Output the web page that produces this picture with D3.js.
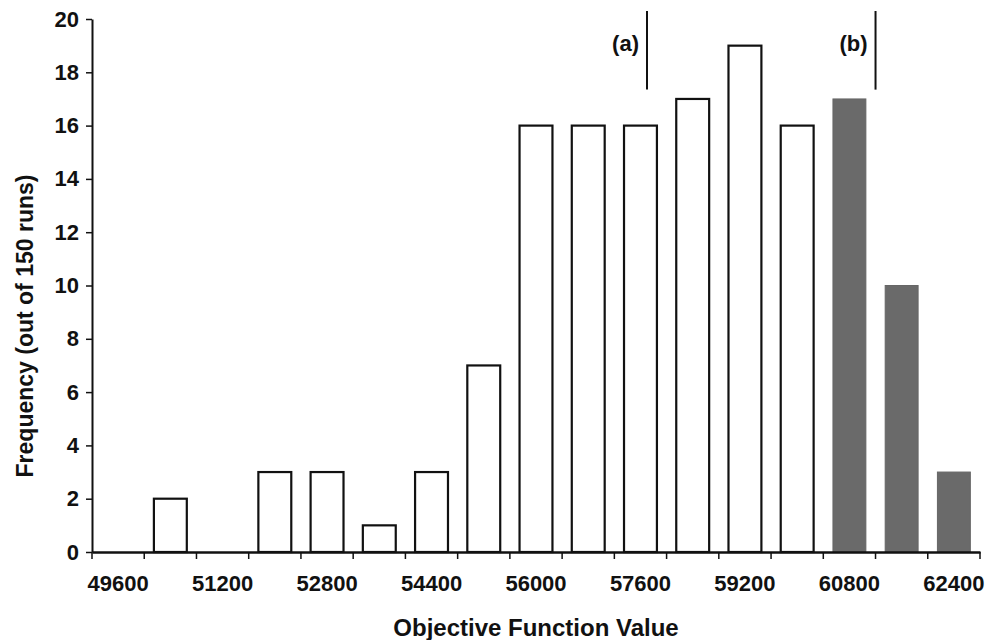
<!DOCTYPE html>
<html>
<head>
<meta charset="utf-8">
<script src="https://cdn.jsdelivr.net/npm/d3@7"></script>
<style>
  body { margin: 0; background: #fff; }
  text { font-family: "Liberation Sans", Arial, sans-serif; font-weight: bold; fill: #111; }
</style>
</head>
<body>
<div id="chart"></div>
<script>
// objective function value (bin centres)
var bins = [49600, 50400, 51200, 52000, 52800, 53600, 54400, 55200, 56000,
            56800, 57600, 58400, 59200, 60000, 60800, 61600, 62400];
// frequency out of 150 runs
var counts = [0, 2, 0, 3, 3, 1, 3, 7, 16, 16, 16, 17, 19, 16, 17, 10, 3];
// bins beyond the (b) cut-off are shaded
var shaded = [60800, 61600, 62400];
var xLabels = [49600, 51200, 52800, 54400, 56000, 57600, 59200, 60800, 62400];
var yTicks = [0, 2, 4, 6, 8, 10, 12, 14, 16, 18, 20];
var markers = [{ label: "(a)", value: 57700 }, { label: "(b)", value: 61200 }];

var width = 986, height = 640;
var plotLeft = 92, plotRight = 980, plotTop = 19, plotBottom = 552;

var svg = d3.select("#chart")
  .append("svg")
  .attr("width", width)
  .attr("height", height);

var x = d3.scaleBand()
  .domain(bins)
  .range([plotLeft, plotRight])
  .paddingInner(0.37)
  .paddingOuter(0.185);

// linear scale over the same span, for the marker lines
var xv = d3.scaleLinear()
  .domain([bins[0] - 400, bins[bins.length - 1] + 400])
  .range([plotLeft, plotRight]);

var y = d3.scaleLinear()
  .domain([0, 20])
  .range([plotBottom, plotTop]);

var data = bins.map(function (b, i) { return { bin: b, count: counts[i] }; });

function isShaded(d) { return shaded.indexOf(d.bin) >= 0; }

// bars
svg.selectAll(".bar")
  .data(data.filter(function (d) { return d.count > 0; }))
  .enter()
  .append("rect")
  .attr("class", "bar")
  .attr("x", function (d) { return x(d.bin); })
  .attr("width", x.bandwidth())
  .attr("y", function (d) { return y(d.count); })
  .attr("height", function (d) { return y(0) - y(d.count); })
  .attr("fill", function (d) { return isShaded(d) ? "#6a6a6a" : "#fff"; })
  .attr("stroke", function (d) { return isShaded(d) ? "#666" : "#111"; })
  .attr("stroke-width", function (d) { return isShaded(d) ? 1 : 2.2; });

// y axis
var yAxis = svg.append("g")
  .attr("transform", "translate(" + plotLeft + ",0)")
  .call(d3.axisLeft(y).tickValues(yTicks).tickSize(6).tickSizeOuter(0));
yAxis.select(".domain").attr("stroke", "#111").attr("stroke-width", 2);
yAxis.selectAll(".tick line").attr("stroke", "#111").attr("stroke-width", 1.5);
yAxis.selectAll(".tick text")
  .attr("x", -13)
  .style("font-size", "22px");

// x axis: labels at every other bin, ticks at bin boundaries
var xAxis = svg.append("g")
  .attr("transform", "translate(0," + plotBottom + ")")
  .call(d3.axisBottom(x).tickValues(xLabels).tickSize(0).tickPadding(23));
xAxis.select(".domain").attr("stroke", "#111").attr("stroke-width", 2.4);
xAxis.selectAll(".tick text").style("font-size", "22px");

var step = x.step();
var edges = d3.range(bins.length + 1).map(function (i) { return plotLeft + i * step; });
xAxis.selectAll(".edge")
  .data(edges)
  .enter()
  .append("line")
  .attr("class", "edge")
  .attr("x1", function (d) { return d; })
  .attr("x2", function (d) { return d; })
  .attr("y1", 0)
  .attr("y2", 7)
  .attr("stroke", "#111")
  .attr("stroke-width", 1.5);

// axis titles
svg.append("text")
  .attr("x", (plotLeft + plotRight) / 2)
  .attr("y", 636)
  .attr("text-anchor", "middle")
  .style("font-size", "24px")
  .text("Objective Function Value");

svg.append("text")
  .attr("transform", "translate(33," + 326 + ") rotate(-90)")
  .attr("text-anchor", "middle")
  .style("font-size", "23px")
  .text("Frequency (out of 150 runs)");

// cut-off markers
var mk = svg.selectAll(".marker")
  .data(markers)
  .enter()
  .append("g")
  .attr("class", "marker");

mk.append("line")
  .attr("x1", function (d) { return xv(d.value); })
  .attr("x2", function (d) { return xv(d.value); })
  .attr("y1", y(20.3))
  .attr("y2", y(17.35))
  .attr("stroke", "#111")
  .attr("stroke-width", 2);

mk.append("text")
  .attr("x", function (d) { return xv(d.value) - 8; })
  .attr("y", 51)
  .attr("text-anchor", "end")
  .style("font-size", "22px")
  .text(function (d) { return d.label; });
</script>
</body>
</html>
